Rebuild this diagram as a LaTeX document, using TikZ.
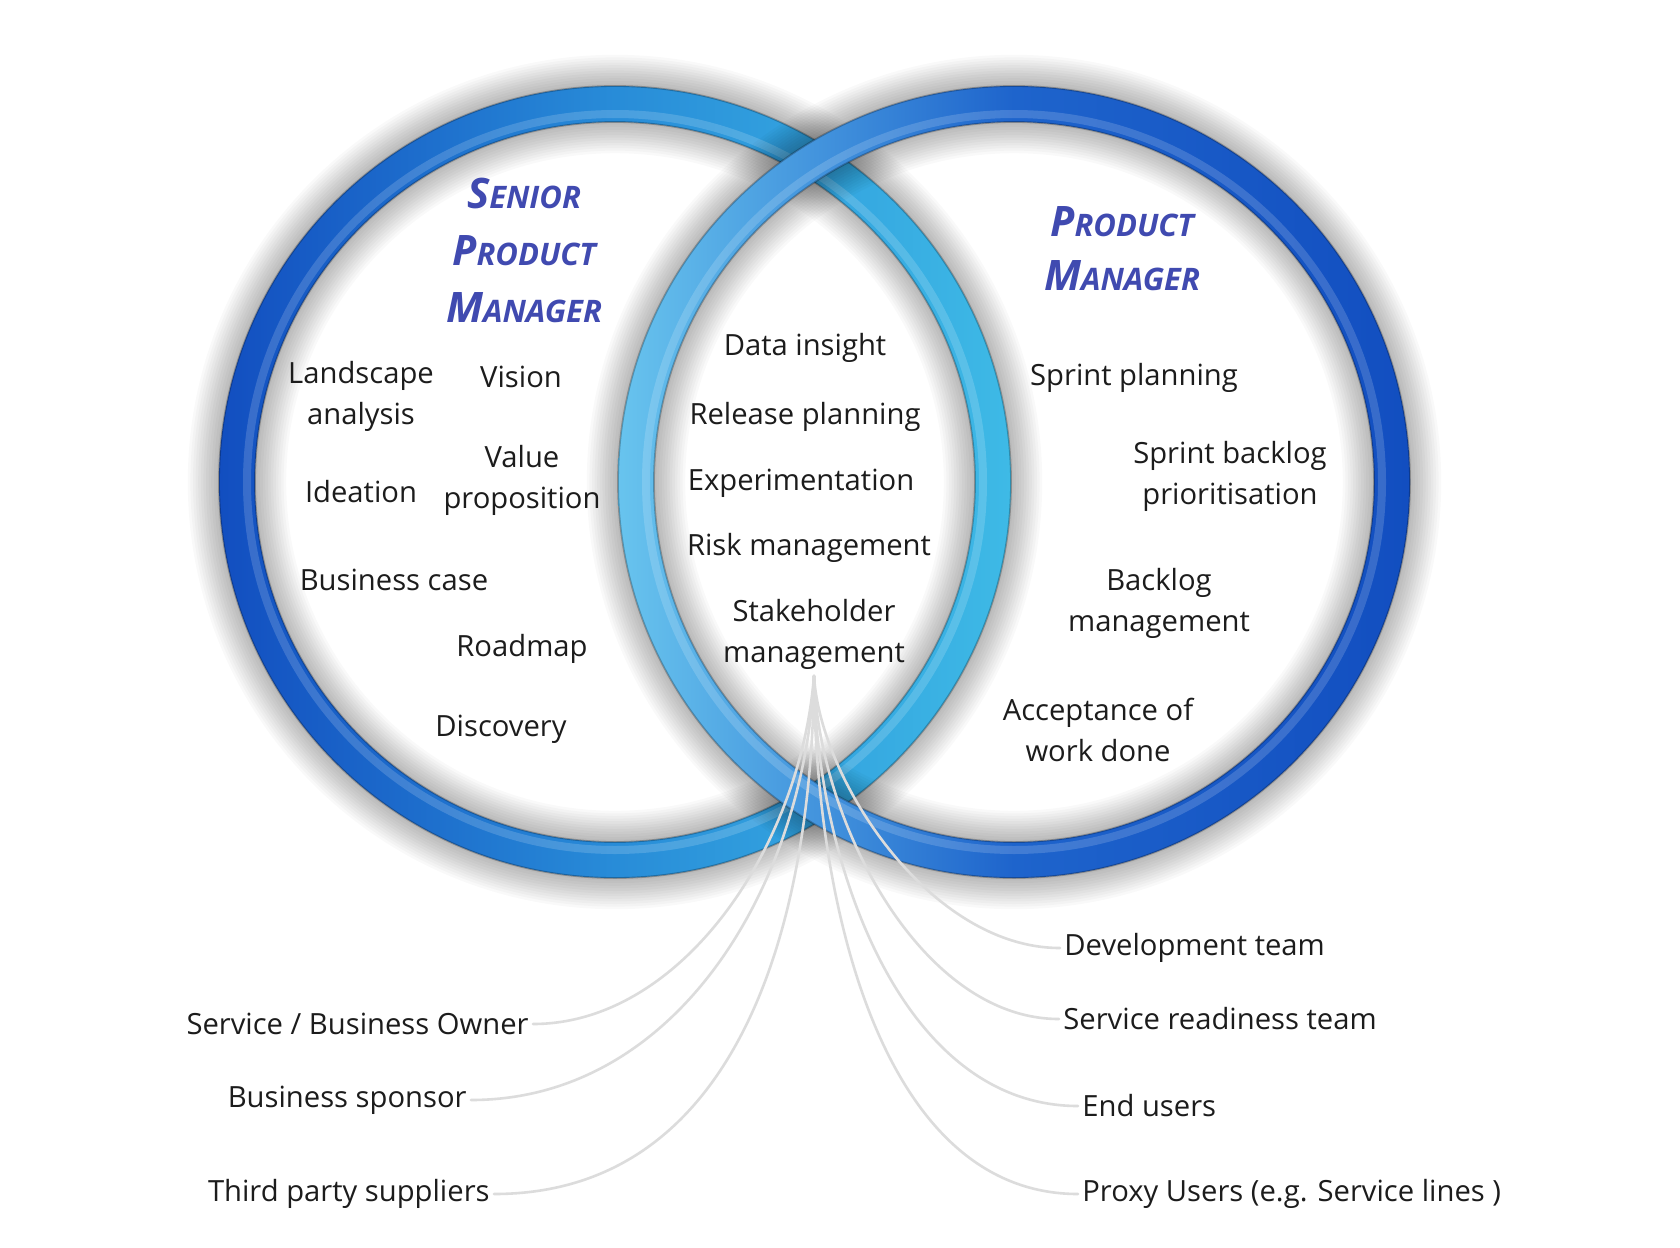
\documentclass[tikz,border=0pt]{standalone}
\usepackage{fontspec}
\setmainfont{Open Sans}
\definecolor{ink}{RGB}{28,28,28}
\definecolor{indigo}{RGB}{64,74,176}
\definecolor{linegray}{RGB}{220,220,220}
\definecolor{dkL}{RGB}{18,78,192}
\definecolor{midL}{RGB}{40,140,216}
\definecolor{cyL}{RGB}{62,186,230}
\definecolor{cyR}{RGB}{104,196,238}
\definecolor{midR}{RGB}{30,100,204}
\definecolor{dkR}{RGB}{18,78,192}
\newcommand\tcap[2]{{\fontsize{21}{21}\selectfont #1}{\fontsize{15.5}{15.5}\selectfont #2}}
\begin{document}
\begin{tikzpicture}[x=0.5pt,y=-0.5pt,
  txt/.style={font=\fontsize{14.6}{20.5}\selectfont, text=ink, align=center, inner sep=1pt},
  ttl/.style={font=\fontsize{15}{28.5}\selectfont\bfseries\itshape, text=indigo, align=center},
  lbl/.style={font=\fontsize{14.6}{20.5}\selectfont, text=ink, inner sep=2pt},
  conn/.style={draw=linegray, line width=1.3pt, line cap=round},
  halo/.style={draw=black, opacity=0.022},
  edge/.style={draw=black, opacity=0.25, line width=0.9pt},
  gloss/.style={draw=white, opacity=0.16, line width=4pt}
]
\useasboundingbox (0,0) rectangle (1680,1247);
\fill[white] (0,0) rectangle (1680,1247);

\coordinate (cL) at (615,482);
\coordinate (cR) at (1014,482);

% left ring
\foreach \k [evaluate=\k as \w using 18+2.6*\k] in {1,...,12}
  \draw[halo, line width=\w pt] (cL) circle[radius=189pt];
\path[even odd rule, left color=dkL, right color=cyL, middle color=midL]
  (cL) circle[radius=198pt] (cL) circle[radius=180pt];
\draw[edge] (cL) circle[radius=198pt] (cL) circle[radius=180pt];
\draw[gloss] (cL) circle[radius=184pt];

% right ring
\foreach \k [evaluate=\k as \w using 18+2.6*\k] in {1,...,12}
  \draw[halo, line width=\w pt] (cR) circle[radius=189pt];
\path[even odd rule, left color=cyR, right color=dkR, middle color=midR]
  (cR) circle[radius=198pt] (cR) circle[radius=180pt];
\draw[edge] (cR) circle[radius=198pt] (cR) circle[radius=180pt];
\draw[gloss] (cR) circle[radius=184pt];

% titles
\node[ttl] (spm) at (524,250) {\tcap{S}{ENIOR}\\ \tcap{P}{RODUCT}\\ \tcap{M}{ANAGER}};
\node[ttl, font=\fontsize{15}{27}\selectfont\bfseries\itshape] (pm) at (1122,249) {\tcap{P}{RODUCT}\\ \tcap{M}{ANAGER}};

% left circle items
\node[txt] (land) at (361,396) {Landscape\\analysis};
\node[txt] (vis) at (521,377) {Vision};
\node[txt] (val) at (522,480) {Value\\proposition};
\node[txt] (idea) at (361,492) {Ideation};
\node[txt] (bcase) at (394,580) {Business case};
\node[txt] (road) at (522,649) {Roadmap};
\node[txt] (disc) at (501,729) {Discovery};

% overlap items
\node[txt] (data) at (805,348) {Data insight};
\node[txt] (rel) at (805,417) {Release planning};
\node[txt] (exp) at (801,483) {Experimentation};
\node[txt] (risk) at (809,548) {Risk management};
\node[txt] (stake) at (814,634) {Stakeholder\\management};

% right circle items
\node[txt] (sprint) at (1134,378) {Sprint planning};
\node[txt] (sback) at (1230,476) {Sprint backlog\\prioritisation};
\node[txt] (back) at (1159,603) {Backlog\\management};
\node[txt] (acc) at (1098,730) {Acceptance of\\work done};

% stakeholder labels
\node[lbl, anchor=west] (dev) at (1060,948) {Development team};
\node[lbl, anchor=west] (srt) at (1059,1019) {Service readiness team};
\node[lbl, anchor=west] (endu) at (1078,1106) {End users};
\node[lbl, anchor=west] (proxy) at (1078,1194) {Proxy Users (e.g. Service lines )};
\node[lbl, anchor=east] (sbo) at (533,1024) {Service / Business Owner};
\node[lbl, anchor=east] (bsp) at (471,1100) {Business sponsor};
\node[lbl, anchor=east] (tps) at (494,1194) {Third party suppliers};

% connectors
\coordinate (hub) at (814,676);
\draw[conn] (hub) .. controls (800,850) and (680,1024) .. (sbo.east);
\draw[conn] (hub) .. controls (805,880) and (680,1100) .. (bsp.east);
\draw[conn] (hub) .. controls (812,920) and (740,1194) .. (tps.east);
\draw[conn] (hub) .. controls (820,780) and (930,948) .. (dev.west);
\draw[conn] (hub) .. controls (818,820) and (920,1019) .. (srt.west);
\draw[conn] (hub) .. controls (816,860) and (900,1106) .. (endu.west);
\draw[conn] (hub) .. controls (815,900) and (880,1194) .. (proxy.west);
\end{tikzpicture}
\end{document}
